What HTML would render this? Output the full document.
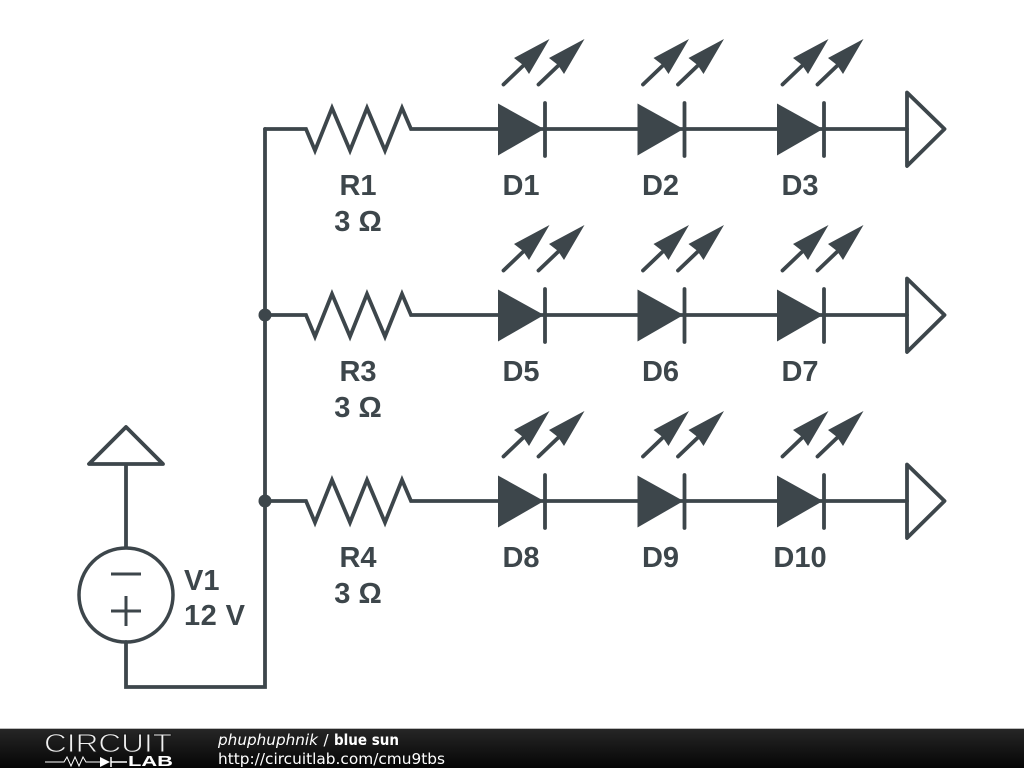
<!DOCTYPE html>
<html><head><meta charset="utf-8"><style>
html,body{margin:0;padding:0;background:#fff;width:1024px;height:768px;overflow:hidden}
svg{display:block;filter:blur(0.35px)}
.w{fill:none;stroke:#3d464b;stroke-width:3.8;stroke-linejoin:miter;stroke-linecap:round}
.s{fill:none;stroke:#3d464b;stroke-width:3;stroke-linecap:butt}
.f{fill:#3d464b;stroke:none}
.l{font-family:"Liberation Sans",sans-serif;font-weight:bold;font-size:29px;fill:#3d464b}
.m{text-anchor:middle}
.t{font-family:"DejaVu Sans",sans-serif;font-size:15px;fill:#fff}
</style></head><body>
<svg width="1024" height="768" viewBox="0 0 1024 768" xmlns="http://www.w3.org/2000/svg">
<defs>
<linearGradient id="g" x1="0" y1="0" x2="0" y2="1"><stop offset="0" stop-color="#262626"/><stop offset="1" stop-color="#050505"/></linearGradient>
<g id="arrow">
<path class="w" d="M503.500 84.500L526 63"/>
<path class="f" d="M549.500 39L514 58L523 65L529 74Z"/>
</g>
<g id="led">
<use href="#arrow"/><use href="#arrow" x="35"/>
<path class="f" d="M498 103.500L544 129L498 155.500Z"/>
<path class="w" d="M545 103V156"/>
</g>
<g id="row">
<path class="w" d="M265 129H306L315 150.500L332 108L350 150.500L367 108L385 150.500L402 108L411 129H907"/>
<use href="#led"/><use href="#led" x="139.500"/><use href="#led" x="279"/>
<path class="w" style="stroke-linejoin:round" d="M907 92.500L944.500 129L907 166Z"/>
</g>
</defs>
<use href="#row"/>
<use href="#row" y="186"/>
<use href="#row" y="372"/>
<path class="w" d="M265 129V687H126V642"/>
<circle class="f" cx="265" cy="315" r="6.500"/>
<circle class="f" cx="265" cy="501" r="6.500"/>
<path class="w" style="stroke-linejoin:round" d="M126 547V464M89 464H163L126 427Z"/>
<circle class="w" cx="126" cy="595" r="47" style="stroke-width:3.5"/>
<path class="s" d="M111 574H141M111 611H141M126 596V626"/>
<g class="l">
<text class="m" x="358" y="195">R1</text><text class="m" x="358" y="231">3 Ω</text>
<text class="m" x="358" y="381">R3</text><text class="m" x="358" y="417">3 Ω</text>
<text class="m" x="358" y="567">R4</text><text class="m" x="358" y="603">3 Ω</text>
<text class="m" x="521" y="195">D1</text><text class="m" x="660.500" y="195">D2</text><text class="m" x="800" y="195">D3</text>
<text class="m" x="521" y="381">D5</text><text class="m" x="660.500" y="381">D6</text><text class="m" x="800" y="381">D7</text>
<text class="m" x="521" y="567">D8</text><text class="m" x="660.500" y="567">D9</text><text class="m" x="800" y="567">D10</text>
<text x="184" y="590">V1</text><text x="184" y="625" textLength="61">12 V</text>
</g>
<rect x="0" y="728" width="1024" height="1" fill="#bbb"/>
<rect x="0" y="729" width="1024" height="39" fill="url(#g)"/>
<text x="44" y="752" font-family="'Liberation Sans',sans-serif" font-size="26" fill="#f0f0f0" stroke="#1a1a1a" stroke-width="0.9" textLength="128" lengthAdjust="spacingAndGlyphs">CIRCUIT</text>
<path d="M45 762H64L67 757L71 766L75 757L79 766L83 757L86 762H100" fill="none" stroke="#fff" stroke-width="1"/>
<path d="M100 757L110 762L100 767Z" fill="#fff"/>
<path d="M111 757V767M111 762H127" fill="none" stroke="#fff" stroke-width="1.500"/>
<text x="128" y="766" font-family="'Liberation Sans',sans-serif" font-weight="bold" font-size="14.500" fill="#fff" textLength="45" lengthAdjust="spacingAndGlyphs">LAB</text>
<text class="t" x="218" y="745" font-style="italic" textLength="100" lengthAdjust="spacingAndGlyphs">phuphuphnik</text>
<text class="t" x="323.500" y="745">/</text>
<text class="t" x="334" y="745" font-weight="bold" textLength="65" lengthAdjust="spacingAndGlyphs">blue sun</text>
<text class="t" x="218" y="764" textLength="227" lengthAdjust="spacingAndGlyphs">http://circuitlab.com/cmu9tbs</text>
</svg>
</body></html>
